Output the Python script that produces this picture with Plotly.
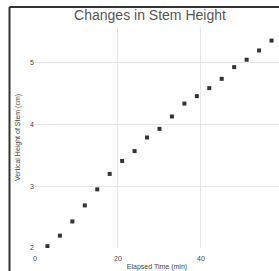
import plotly.graph_objects as go

elapsed_min = [3, 6, 9, 12, 15, 18, 21, 24, 27, 30, 33, 36, 39, 42, 45, 48, 51, 54, 57]
height_cm = [2.03, 2.20, 2.43, 2.69, 2.95, 3.20, 3.41, 3.57, 3.79, 3.93,
             4.13, 4.34, 4.46, 4.59, 4.74, 4.93, 5.05, 5.20, 5.36]

fig = go.Figure(go.Scatter(
    x=elapsed_min, y=height_cm, mode="markers",
    marker=dict(size=4, color="#333333", symbol="square"),
))

font_family = "Liberation Sans, Arial, sans-serif"
fig.update_layout(
    width=279, height=271,
    margin=dict(l=35, r=0, t=27, b=23),
    paper_bgcolor="white", plot_bgcolor="white",
    showlegend=False,
    font=dict(family=font_family, size=7, color="#444444"),
    title=dict(text="Changes in Stem Height", x=150 / 279, xanchor="center",
               y=1 - 15 / 271, yanchor="middle", yref="container",
               font=dict(size=14, color="#555555", family=font_family)),
    xaxis=dict(range=[0, 58.8], dtick=20, tick0=0, showgrid=True,
               gridcolor="#e6e6e6", gridwidth=1, zeroline=False,
               showline=False, ticks="outside", ticklen=4,
               tickcolor="rgba(0,0,0,0)", automargin=False,
               title=dict(text="Elapsed Time (min)", standoff=3,
                          font=dict(size=7, color="#444444"))),
    yaxis=dict(range=[2.0, 5.58], tickvals=[2, 3, 4, 5], showgrid=True,
               gridcolor="#e6e6e6", gridwidth=1, zeroline=False,
               showline=False, ticks="", automargin=False,
               title=dict(text="Vertical Height of Stem (cm)", standoff=8,
                          font=dict(size=7, color="#444444"))),
    shapes=[
        dict(type="line", xref="paper", yref="paper",
             x0=(9.5 - 35) / 244, x1=(9.5 - 35) / 244,
             y0=(248 - 7) / 221, y1=-0.2,
             line=dict(color="#333333", width=2)),
        dict(type="line", xref="paper", yref="paper",
             x0=(9.5 - 35) / 244, x1=1.1,
             y0=(248 - 7) / 221, y1=(248 - 7) / 221,
             line=dict(color="#333333", width=2)),
    ],
)

fig.write_html("out.html",
               config={"displayModeBar": False},
               post_script="document.body.style.margin='0';document.body.style.overflow='hidden';")
